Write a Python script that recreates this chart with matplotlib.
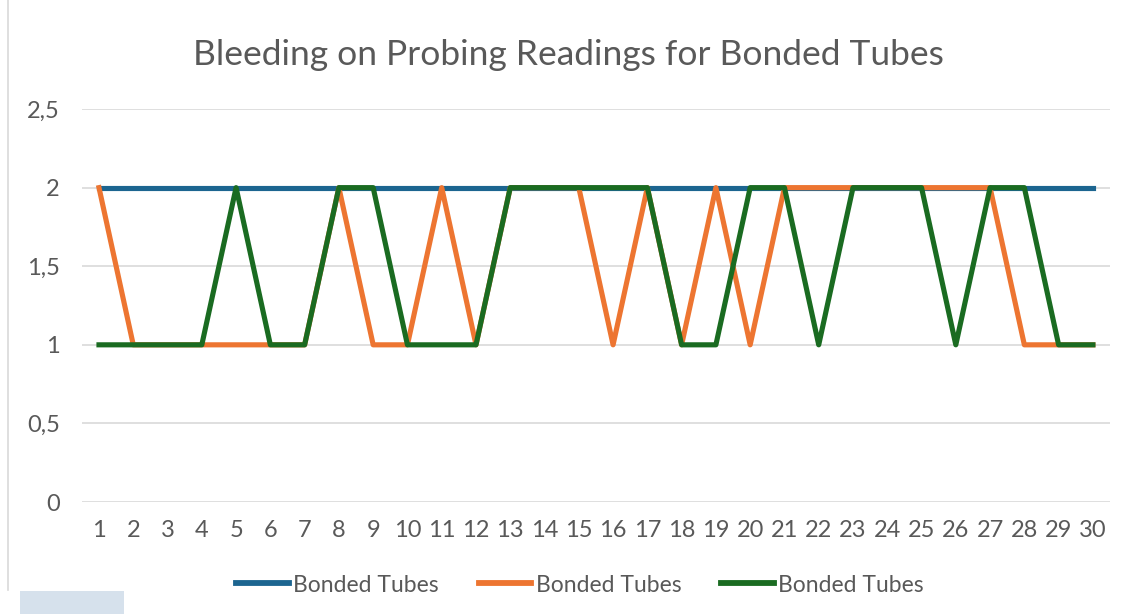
import matplotlib.pyplot as plt
from matplotlib.patches import Rectangle
from matplotlib.lines import Line2D

# data
days = list(range(1, 31))
blue_vals = [2] * 30
orange_vals = [2, 1, 1, 1, 1, 1, 1, 2, 1, 1, 2, 1, 2, 2, 2, 1, 2, 1, 2, 1,
               2, 2, 2, 2, 2, 2, 2, 1, 1, 1]
green_vals = [1, 1, 1, 1, 2, 1, 1, 2, 2, 1, 1, 1, 2, 2, 2, 2, 2, 1, 1, 2,
              2, 1, 2, 2, 2, 1, 2, 2, 1, 1]
series_names = ["Bonded Tubes", "Bonded Tubes", "Bonded Tubes"]
yticks = [0, 0.5, 1, 1.5, 2, 2.5]
ytick_labels = ["0", "0,5", "1", "1,5", "2", "2,5"]

colors = ["#1c6590", "#ed7531", "#1a6b21"]
grey = "#595959"
plt.rcParams['font.family'] = ["Lato", "DejaVu Sans"]

fig = plt.figure(figsize=(11.29, 6.14), dpi=100)
ax = fig.add_axes([0.0725, 0.1824, 0.9107, 0.640])

for vals, c, name in zip([blue_vals, orange_vals, green_vals], colors, series_names):
    ax.plot(days, vals, color=c, lw=3.7, label=name, solid_joinstyle='round')

ax.set_xlim(0.5, 30.5)
ax.set_ylim(0, 2.5)
ax.set_yticks(yticks)
ax.set_yticklabels(ytick_labels)
ax.set_xticks(days)
ax.set_xticklabels([str(d) for d in days])
ax.grid(axis='y', color='#d9d9d9', lw=1.2)
ax.set_axisbelow(True)
for s in ax.spines.values():
    s.set_visible(False)
ax.tick_params(length=0, labelsize=17, colors=grey)
ax.tick_params(axis='y', pad=16)
ax.tick_params(axis='x', pad=13)

fig.text(568.5 / 1129, 1 - 55 / 614, "Bleeding on Probing Readings for Bonded Tubes",
         ha='center', va='center', fontsize=25.5, color=grey)

handles = [Line2D([], [], color=c, lw=4.2) for c in colors]
fig.legend(handles, series_names, loc='center', bbox_to_anchor=(580 / 1129, 1 - 585 / 614),
           ncol=3, frameon=False, fontsize=16.5, labelcolor=grey,
           handlelength=2.3, handletextpad=0.18, columnspacing=1.75)

# chart frame edge and watermark scrap at bottom left
fig.add_artist(Line2D([8 / 1129, 8 / 1129], [24 / 614, 1], color='#d9d9d9', lw=1.2))
fig.add_artist(Rectangle((20 / 1129, 0), 104 / 1129, 23 / 614, color='#d6e1ec', lw=0))

fig.savefig("out.png", dpi=100)
